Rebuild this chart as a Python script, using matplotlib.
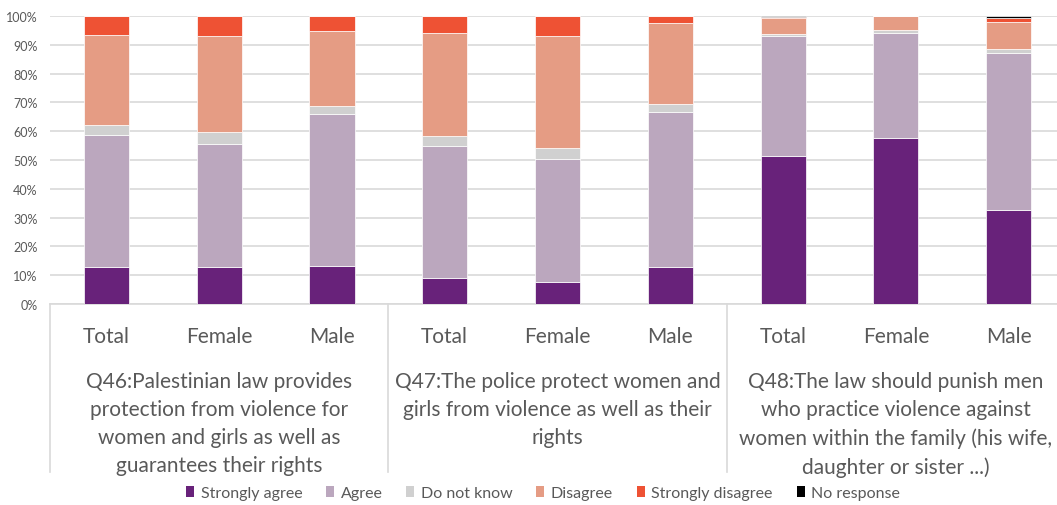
import matplotlib
matplotlib.use("Agg")
import matplotlib.pyplot as plt
import numpy as np
from matplotlib.patches import Patch
from matplotlib.ticker import PercentFormatter
import matplotlib.transforms as mtransforms

plt.rcParams['font.family'] = ['Lato', 'DejaVu Sans']

subgroups = ["Total", "Female", "Male"] * 3
questions = [
    "Q46:Palestinian law provides\nprotection from violence for\nwomen and girls as well as\nguarantees their rights",
    "Q47:The police protect women and\ngirls from violence as well as their\nrights",
    "Q48:The law should punish men\nwho practice violence against\nwomen within the family (his wife,\ndaughter or sister ...)",
]
series_names = ["Strongly agree", "Agree", "Do not know", "Disagree", "Strongly disagree", "No response"]
strongly_agree = [12.9, 12.9, 13.2, 9.0, 7.7, 12.9, 51.4, 57.5, 32.8]
agree = [45.7, 42.7, 52.6, 45.7, 42.8, 53.8, 41.6, 36.7, 54.4]
do_not_know = [3.4, 4.1, 2.9, 3.6, 3.7, 2.8, 0.8, 0.8, 1.4]
disagree = [31.4, 33.2, 26.0, 35.9, 39.0, 28.0, 5.5, 5.0, 9.3]
strongly_disagree = [6.6, 7.1, 5.3, 5.8, 6.8, 2.5, 0.3, 0.0, 1.3]
no_response = [0.0, 0.0, 0.0, 0.0, 0.0, 0.0, 0.4, 0.0, 0.8]

colors = ["#68227A", "#BBA7BE", "#D0D0D0", "#E59C84", "#EE5234", "#000000"]
text_color = "#595959"

data = np.array([strongly_agree, agree, do_not_know, disagree, strongly_disagree, no_response]) / 100.0
data = data / data.sum(axis=0)

fig = plt.figure(figsize=(10.57, 5.06), dpi=100)
ax = fig.add_axes([50/1057, 1 - 305/506, (1065 - 50)/1057, (305 - 17)/506])

x = np.arange(len(subgroups))
bottom = np.zeros(len(subgroups))
for i, name in enumerate(series_names):
    ax.bar(x, data[i], 0.4, bottom=bottom, color=colors[i], edgecolor="white",
           linewidth=0.5, label=name, zorder=3)
    bottom += data[i]

ax.set_xlim(-0.5, len(subgroups) - 0.5)
ax.set_ylim(0, 1)
ax.set_yticks(np.arange(0, 1.01, 0.1))
ax.yaxis.set_major_formatter(PercentFormatter(1.0, decimals=0))
ax.tick_params(axis='y', length=0, labelsize=9, colors=text_color, pad=9)
ax.set_xticks([])
ax.grid(axis='y', color="#D9D9D9", linewidth=1.2, zorder=0)
for s in ["left", "right", "top"]:
    ax.spines[s].set_visible(False)
ax.spines["bottom"].set_color("#D9D9D9")
ax.spines["bottom"].set_linewidth(1.2)

trans = mtransforms.blended_transform_factory(ax.transData, ax.transAxes)
h = 305 - 17
for i, lab in enumerate(subgroups):
    ax.text(i, (305 - 337) / h, lab, transform=trans, ha="center", va="center",
            fontsize=15, color=text_color)
for g, q in enumerate(questions):
    ax.text(3 * g + 1, (305 - 372) / h, q, transform=trans, ha="center", va="top",
            fontsize=15, color=text_color, linespacing=1.50)
for b in [-0.5, 2.5, 5.5, 8.5]:
    ax.plot([b, b], [0, (305 - 473) / h], transform=trans, color="#D9D9D9",
            linewidth=1.2, clip_on=False)

handles = [Patch(facecolor=c, edgecolor="none") for c in colors]
fig.legend(handles, series_names, loc="center", bbox_to_anchor=(543/1057, 1 - 494/506),
           ncol=6, frameon=False, fontsize=11.5, labelcolor=text_color,
           handlelength=0.5, handleheight=0.7, handletextpad=0.4, columnspacing=1.5)

fig.savefig("out.png", dpi=100)
